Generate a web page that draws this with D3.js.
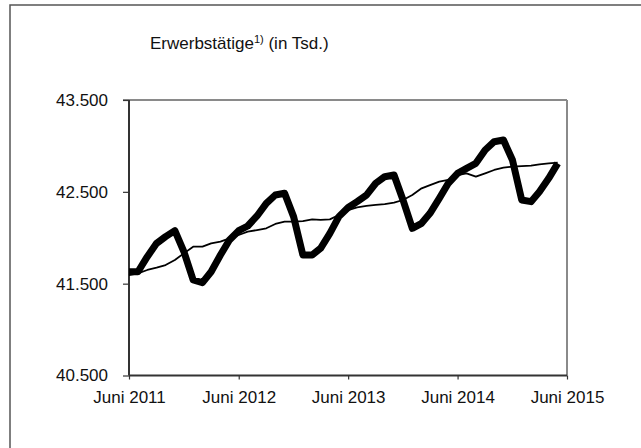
<!DOCTYPE html>
<html><head><meta charset="utf-8">
<script src="https://cdn.jsdelivr.net/npm/d3@7"></script>
<style>body{margin:0;background:#fff}svg{display:block;font-family:"Liberation Sans",Arial,sans-serif}</style>
</head><body><svg id="c" width="641" height="448"></svg>
<script>
// Monthly points June 2011 .. May 2015
const startMonth = new Date(2011, 5, 1);
const original = [41630,41630,41794,41939,42012,42077,41850,41540,41511,41630,41812,41975,
  42077,42128,42237,42375,42465,42484,42230,41812,41812,41885,42048,42230,
  42330,42393,42465,42593,42665,42683,42411,42103,42157,42266,42429,42593,
  42702,42756,42810,42956,43046,43064,42847,42411,42393,42501,42647,42810];
const trend = [41594,41613,41649,41674,41703,41758,41830,41903,41903,41939,41957,41994,
  42030,42066,42084,42103,42150,42175,42175,42182,42200,42195,42200,42248,
  42302,42331,42346,42357,42367,42382,42411,42465,42538,42574,42611,42629,
  42683,42702,42665,42702,42738,42763,42774,42780,42785,42800,42810,42818];
const yTicks = [40500,41500,42500,43500];
const xTickLabels = ["Juni 2011","Juni 2012","Juni 2013","Juni 2014","Juni 2015"];

const svg = d3.select("#c");
const L=129, R=567, T=100, B=375.5;
const FS = 17;
const x = d3.scaleTime().domain([new Date(2011,5,1), new Date(2015,5,1)]).range([L,R]);
const y = d3.scaleLinear().domain([40500,43500]).range([B,T]);
const dates = original.map((d,i)=>d3.timeMonth.offset(startMonth,i));

// outer frame
svg.append("rect").attr("x",10).attr("y",5).attr("width",700).attr("height",600)
  .attr("fill","none").attr("stroke","#555").attr("stroke-width",1.5);

// title
const t = svg.append("text").attr("x",150).attr("y",49).attr("font-size",FS).attr("fill","#111");
t.append("tspan").text("Erwerbstätige");
t.append("tspan").attr("font-size",11).attr("dy",-6).text("1)");
t.append("tspan").attr("dy",6).text(" (in Tsd.)");

// plot frame (top, right) gray
svg.append("line").attr("x1",L-6).attr("x2",R).attr("y1",T).attr("y2",T).attr("stroke","#8a8a8a").attr("stroke-width",2);
svg.append("line").attr("x1",R).attr("x2",R).attr("y1",T).attr("y2",B).attr("stroke","#8a8a8a").attr("stroke-width",2);

const fmt = d => d3.format(",")(d).replace(/,/g,".");
const yAxis = svg.append("g").attr("transform",`translate(${L},0)`)
  .call(d3.axisLeft(y).tickValues(yTicks).tickSize(6).tickPadding(15).tickFormat(fmt));
const xAxis = svg.append("g").attr("transform",`translate(0,${B})`)
  .call(d3.axisBottom(x).tickValues(xTickLabels.map((s,i)=>new Date(2011+i,5,1))).tickSize(4).tickPadding(11)
    .tickFormat((d,i)=>xTickLabels[i]));
[yAxis,xAxis].forEach(g=>{
  g.select(".domain").attr("stroke","#333").attr("stroke-width",2);
  g.selectAll(".tick line").attr("stroke","#333").attr("stroke-width",1.2);
  g.selectAll("text").attr("font-size",FS).attr("fill","#111").attr("font-family","Liberation Sans, Arial, sans-serif");
});
yAxis.select(".domain").attr("d",`M0,${T}V${B}`);
xAxis.select(".domain").attr("d",`M${L},0H${R}`);

const line = d3.line().x((d,i)=>x(dates[i])).y(d=>y(d));
svg.append("path").datum(trend).attr("d",line).attr("fill","none").attr("stroke","#000").attr("stroke-width",1.8).attr("stroke-linejoin","round");
svg.append("path").datum(original).attr("d",line).attr("fill","none").attr("stroke","#000").attr("stroke-width",7).attr("stroke-linejoin","round");
</script></body></html>
